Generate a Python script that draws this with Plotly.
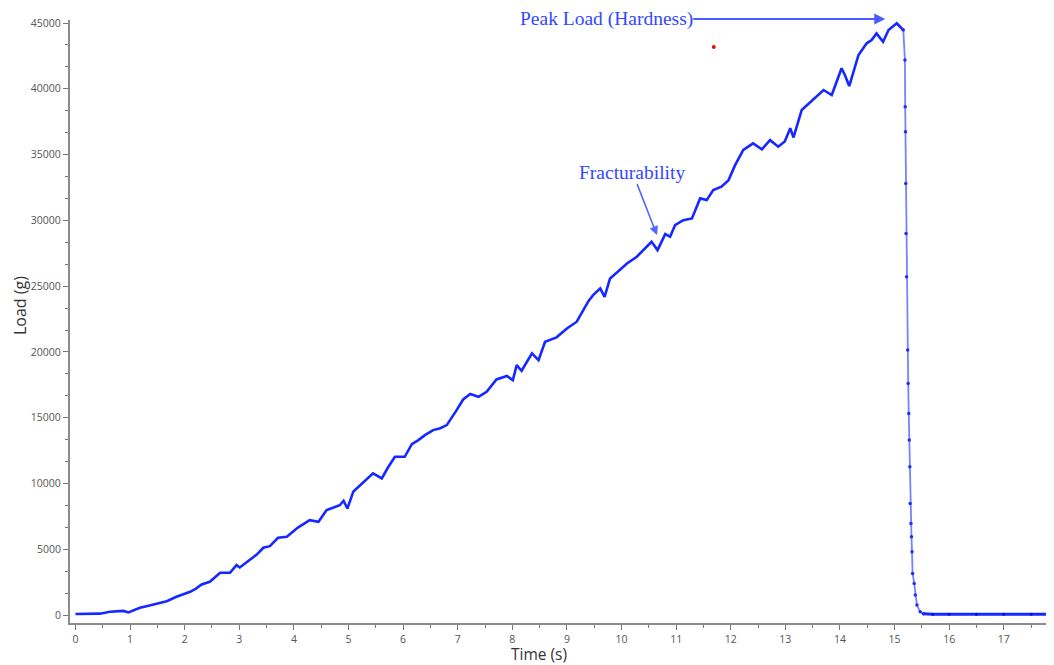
import plotly.graph_objects as go

# ---- data ----
time_s = [0.00, 0.20, 0.45, 0.63, 0.78, 0.88, 0.97, 1.08, 1.18, 1.30, 1.43, 1.55, 1.67, 1.85, 2.00,
          2.10, 2.20, 2.31, 2.46, 2.55, 2.65, 2.83, 2.95, 3.01, 3.20, 3.32, 3.44, 3.56, 3.71, 3.87,
          4.08, 4.29, 4.45, 4.60, 4.74, 4.84, 4.91, 4.98, 5.09, 5.20, 5.32, 5.45, 5.61, 5.72, 5.85,
          6.03, 6.16, 6.28, 6.40, 6.55, 6.68, 6.80, 6.98, 7.10, 7.23, 7.38, 7.53, 7.71, 7.90, 8.01,
          8.08, 8.17, 8.36, 8.48, 8.60, 8.81, 9.00, 9.18, 9.30, 9.40, 9.48, 9.61, 9.69, 9.79, 9.91,
          10.10, 10.28, 10.40, 10.55, 10.66, 10.80, 10.89, 10.98, 11.13, 11.29, 11.44, 11.56, 11.68,
          11.83, 11.96, 12.08, 12.23, 12.41, 12.57, 12.72, 12.87, 12.99, 13.09, 13.15, 13.30, 13.51,
          13.70, 13.85, 14.03, 14.09, 14.17, 14.34, 14.49, 14.58, 14.67, 14.79, 14.89, 15.04, 15.16,
          15.19, 15.195, 15.20, 15.205, 15.21, 15.22, 15.24, 15.25, 15.26, 15.27, 15.28, 15.285,
          15.30, 15.31, 15.32, 15.33, 15.36, 15.38, 15.41, 15.47, 15.53,
          15.70, 16.00, 16.50, 17.00, 17.50, 18.00]
load_g = [80, 90, 110, 250, 280, 320, 200, 400, 560, 680, 810, 920, 1060, 1390, 1600,
          1770, 2000, 2330, 2530, 2850, 3220, 3220, 3800, 3620, 4180, 4600, 5120, 5240, 5880, 5950,
          6670, 7220, 7090, 7980, 8200, 8350, 8690, 8100, 9400, 9800, 10300, 10770, 10390, 11200, 12030,
          12030, 13000, 13300, 13680, 14060, 14200, 14440, 15580, 16390, 16800, 16590, 16970, 17910, 18170, 17860,
          19000, 18570, 19890, 19380, 20780, 21110, 21790, 22300, 23180, 23900, 24320, 24830, 24190, 25590, 26020,
          26730, 27240, 27740, 28370, 27740, 28960, 28760, 29640, 30020, 30150, 31670, 31540, 32300,
          32560, 33060, 34200, 35350, 35850, 35400, 36100, 35600, 36000, 37000, 36300, 38390, 39150,
          39910, 39530, 41560, 41050, 40210, 42570, 43460, 43700, 44210, 43580, 44470, 44980, 44470,
          42190, 38640, 36740, 32810, 29010, 25710, 20140, 17610, 15330, 13300, 11270, 8490,
          6970, 5950, 4810, 3170, 2410, 1520, 760, 250, 100,
          60, 60, 60, 60, 60, 60]

peak_index = 113      # last point before the sudden drop
drop_end_index = 134  # curve back at baseline

x_ticks = list(range(0, 18))
y_ticks = list(range(0, 45001, 5000))

peak_label = "Peak Load (Hardness)"
fract_label = "Fracturability"
x_title = "Time (s)"
y_title = "Load (g)"
stray_point_t = [11.69]
stray_point_v = [43170]

BLUE = "#1428ff"

fig = go.Figure()

# main rising curve + baseline
fig.add_trace(go.Scatter(
    x=time_s[:peak_index + 1], y=load_g[:peak_index + 1],
    mode="lines", line=dict(color=BLUE, width=2.6), hoverinfo="skip", showlegend=False))
fig.add_trace(go.Scatter(
    x=time_s[drop_end_index:], y=load_g[drop_end_index:],
    mode="lines+markers", line=dict(color=BLUE, width=3),
    marker=dict(size=3, color="#0010e0"), hoverinfo="skip", showlegend=False))
# fast drop drawn with visible sample dots
fig.add_trace(go.Scatter(
    x=time_s[peak_index:drop_end_index + 1], y=load_g[peak_index:drop_end_index + 1],
    mode="lines+markers", line=dict(color="rgba(70,90,255,0.75)", width=1.8),
    marker=dict(size=3.5, color="#2030f0"), hoverinfo="skip", showlegend=False))
# small red dot
fig.add_trace(go.Scatter(
    x=stray_point_t, y=stray_point_v, mode="markers",
    marker=dict(size=4, color="#e01010"), hoverinfo="skip", showlegend=False))

ann_font = dict(family="Liberation Serif, Times New Roman, serif", size=19.5, color="#3347ff")
fig.add_annotation(
    x=14.83, y=1.0016, ax=9.72, ay=1.0016, xref="x", yref="y domain", axref="x", ayref="y domain",
    text=peak_label, showarrow=True, arrowhead=2, arrowsize=1.1, arrowwidth=2,
    arrowcolor="#4a5cff", font=ann_font, borderpad=0)
fig.add_annotation(
    x=10.65, y=28880, ax=10.20, ay=33670, xref="x", yref="y", axref="x", ayref="y",
    text=fract_label, showarrow=True, arrowhead=2, arrowsize=1.1, arrowwidth=1.6,
    arrowcolor="#5566ff", font=ann_font)

title_font = dict(family="Open Sans, sans-serif", size=15.5, color="#333333")
fig.add_annotation(x=0.4766, y=-0.0522, xref="paper", yref="paper", text=x_title,
                   showarrow=False, font=title_font, yanchor="middle", borderpad=0)
fig.add_annotation(x=-0.0508, y=0.5257, xref="paper", yref="paper", text=y_title,
                   showarrow=False, font=dict(title_font, size=16), textangle=-90,
                   xanchor="center", borderpad=0)

tick_font = dict(family="Open Sans, sans-serif", size=10.5, color="#555555")
axis_common = dict(showgrid=False, zeroline=False, showline=True, linecolor="#8c8c8c", linewidth=2,
                   ticks="outside", ticklen=5, tickwidth=1.2, tickcolor="#777777", tickfont=tick_font)

fig.update_xaxes(range=[-0.1, 17.92], tickvals=x_ticks, tickformat="d",
                 minor=dict(dtick=0.5, ticks="outside", ticklen=3, tickcolor="#777777"),
                 **axis_common)
fig.update_yaxes(range=[-600, 45230], tickvals=y_ticks, tickformat="d",
                 minor=dict(dtick=5000 / 3, ticks="outside", ticklen=3, tickcolor="#777777"),
                 **axis_common)

# the page body adds an 8px offset; size the figure so its plot area lands where the reference's does
fig.update_layout(
    width=1046, height=657,
    margin=dict(l=62, r=0, t=12, b=42),
    paper_bgcolor="white", plot_bgcolor="white",
    showlegend=False,
)

fig.write_html("out.html")
